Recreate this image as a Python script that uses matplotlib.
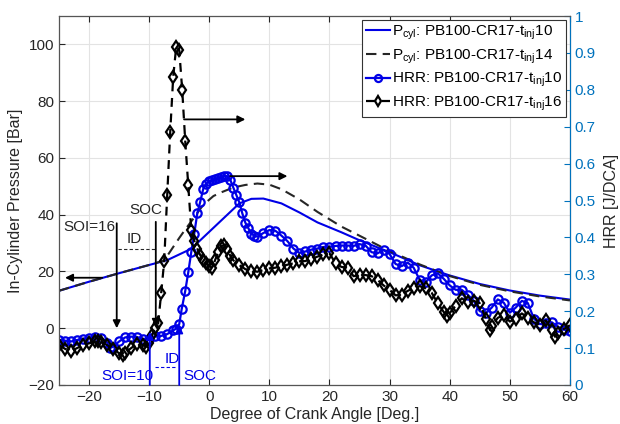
import numpy as np
import matplotlib
matplotlib.use("Agg")
import matplotlib.pyplot as plt

plt.rcParams['font.family'] = ['Liberation Sans', 'DejaVu Sans']
plt.rcParams['mathtext.default'] = 'regular'
plt.rcParams['font.size'] = 11

# In-cylinder pressure [bar]
p10_ca = [-25, -20, -15, -10, -7, -3, 5, 7, 9, 12, 15, 18, 22, 25, 30, 35, 40, 45, 50, 55, 60]
p10 = [13.2, 16.4, 19.4, 22.3, 24.0, 28.0, 44.0, 45.6, 45.7, 44.0, 40.8, 37.3, 33.8, 31.0,
       26.8, 22.2, 18.6, 15.6, 13.3, 11.5, 10.1]

p14_ca = [-25, -20, -15, -10, -7.5, -5, -4, -2.7, -1, 0.7, 2, 4, 6, 8, 10, 12, 15, 18, 22, 25,
          30, 35, 40, 45, 50, 55, 60]
p14 = [13.2, 16.4, 19.4, 22.3, 23.9, 31.8, 34.8, 38.5, 43.5, 46.6, 47.9, 49.6, 50.5, 51.0, 50.6,
       49.0, 45.4, 41.0, 35.8, 32.6, 27.2, 22.5, 18.4, 15.3, 13.0, 11.2, 9.8]

# Heat release rate [J/DCA]
hrr10_ca = [-25, -24, -23, -22, -21, -20, -19, -18, -17, -16.5, -16, -15, -14, -13, -12, -11,
            -10, -9, -8, -7, -6, -5.5, -5, -4.6, -4, -3.5, -3, -2.5, -2, -1.5, -1, -0.5, 0,
            0.5, 1, 1.5, 2, 2.5, 3, 3.5, 4, 4.5, 5, 5.5, 6, 6.5, 7, 7.5, 8, 9, 10, 11, 12, 13,
            14, 15, 16, 17, 18, 19, 20, 21, 22, 23, 24, 25, 26, 27, 28, 29, 30, 31, 32, 33,
            34, 35, 36, 37, 38, 39, 40, 41, 42, 43, 44, 45, 46, 47, 48, 49, 50, 51, 52, 53,
            54, 55, 56, 57, 58, 59, 60]
hrr10 = [0.122, 0.120, 0.118, 0.122, 0.125, 0.128, 0.131, 0.128, 0.115, 0.100, 0.104, 0.118,
         0.129, 0.131, 0.130, 0.124, 0.126, 0.132, 0.133, 0.138, 0.148, 0.153, 0.165, 0.205,
         0.255, 0.305, 0.360, 0.410, 0.465, 0.497, 0.532, 0.546, 0.552, 0.556, 0.558, 0.560,
         0.563, 0.567, 0.566, 0.556, 0.535, 0.515, 0.495, 0.465, 0.440, 0.425, 0.410, 0.405,
         0.402, 0.412, 0.420, 0.418, 0.405, 0.390, 0.370, 0.358, 0.362, 0.367, 0.370, 0.374,
         0.375, 0.377, 0.378, 0.378, 0.377, 0.382, 0.378, 0.360, 0.357, 0.366, 0.355, 0.328,
         0.322, 0.332, 0.318, 0.285, 0.278, 0.297, 0.303, 0.288, 0.270, 0.258, 0.258, 0.245,
         0.228, 0.200, 0.194, 0.210, 0.232, 0.223, 0.196, 0.210, 0.228, 0.222, 0.180, 0.165,
         0.168, 0.170, 0.158, 0.150, 0.147]

hrr16_ca = [-25, -24, -23, -22, -21, -20, -19, -18.5, -18, -17, -16, -15, -14.3, -14, -13, -12,
            -11, -10.5, -10, -9.5, -9, -8.5, -8, -7.5, -7, -6.5, -6, -5.5, -5, -4.5, -4, -3.5,
            -3, -2.5, -2, -1.5, -1, -0.5, 0, 0.5, 1, 1.5, 2, 2.5, 3, 3.5, 4, 5, 6, 7, 8, 9, 10,
            11, 12, 13, 14, 15, 16, 17, 18, 19, 20, 21, 22, 23, 24, 25, 26, 27, 28, 29, 30, 31,
            32, 33, 34, 35, 36, 37, 38, 39, 39.5, 40, 41, 42, 43, 44, 45, 46, 46.7, 47, 48, 49,
            50, 51, 52, 53, 54, 55, 56, 57, 57.5, 58, 59, 60]
hrr16 = [0.108, 0.098, 0.092, 0.100, 0.108, 0.113, 0.118, 0.120, 0.117, 0.108, 0.098, 0.086,
         0.082, 0.088, 0.100, 0.112, 0.108, 0.104, 0.115, 0.135, 0.155, 0.167, 0.250, 0.336,
         0.515, 0.686, 0.836, 0.917, 0.908, 0.799, 0.661, 0.542, 0.420, 0.391, 0.370, 0.352,
         0.340, 0.330, 0.322, 0.318, 0.340, 0.360, 0.376, 0.380, 0.368, 0.350, 0.338, 0.325,
         0.314, 0.310, 0.307, 0.312, 0.316, 0.318, 0.322, 0.326, 0.330, 0.335, 0.336, 0.342,
         0.348, 0.354, 0.357, 0.330, 0.320, 0.318, 0.295, 0.298, 0.298, 0.295, 0.285, 0.270,
         0.258, 0.243, 0.245, 0.255, 0.263, 0.268, 0.262, 0.250, 0.222, 0.198, 0.188, 0.195,
         0.215, 0.235, 0.225, 0.228, 0.222, 0.180, 0.149, 0.160, 0.182, 0.190, 0.172, 0.180,
         0.194, 0.182, 0.170, 0.163, 0.175, 0.150, 0.131, 0.140, 0.152, 0.162]

blue = '#0000e6'
rblue = '#0072BD'
dark = '#262626'

fig = plt.figure(figsize=(6.2, 4.24), dpi=100)
ax = fig.add_axes([0.0952, 0.092, 0.824, 0.870])
ax2 = ax.twinx()

l1, = ax.plot(p10_ca, p10, color=blue, lw=1.5)
l2, = ax.plot(p14_ca, p14, color=dark, lw=1.5, ls=(0, (5, 3)))
l3, = ax2.plot(hrr10_ca, hrr10, color=blue, lw=1.6, marker='o', ms=6, mfc='none', mew=1.6)
l4, = ax2.plot(hrr16_ca, hrr16, color='k', lw=1.6, ls=(0, (4, 3)), marker='d', ms=6.5,
               mfc='none', mew=1.6)

ax.set_xlim(-25, 60)
ax.set_ylim(-20, 110)
ax.set_xticks(np.arange(-20, 61, 10))
ax.set_yticks(np.arange(-20, 101, 20))
ax.grid(True, color='#e3e3e3', lw=0.8)
ax.set_axisbelow(True)
ax.tick_params(direction='in', top=True, colors=dark, labelsize=11, length=4)
ax.set_xlabel('Degree of Crank Angle [Deg.]', fontsize=11.5, color=dark, labelpad=2)
ax.set_ylabel('In-Cylinder Pressure [Bar]', fontsize=11.5, color=dark, labelpad=4)

ax2.set_ylim(0, 1)
ax2.set_yticks(np.arange(0, 1.01, 0.1))
ax2.set_yticklabels(['0', '0.1', '0.2', '0.3', '0.4', '0.5', '0.6', '0.7', '0.8', '0.9', '1'])
ax2.tick_params(direction='in', colors=rblue, labelsize=11, length=4)
ax2.set_ylabel('HRR [J/DCA]', fontsize=11.5, color=dark, labelpad=6)
for s in ['left', 'bottom', 'top']:
    ax2.spines[s].set_color('#555555')
ax2.spines['right'].set_color(rblue)

# annotations (pressure-axis coordinates)
tr = ax.transData
arrow_k = dict(arrowstyle='-|>', color='k', lw=1.3, mutation_scale=11, shrinkA=0, shrinkB=0)
arrow_b = dict(arrowstyle='-|>', color=blue, lw=1.3, mutation_scale=11, shrinkA=0, shrinkB=0)

ax2.annotate('', xy=(-24.0, 17.8), xytext=(-17.8, 17.8), xycoords=tr, textcoords=tr, arrowprops=arrow_k)
ax2.annotate('', xy=(6.0, 73.6), xytext=(-4.2, 73.6), xycoords=tr, textcoords=tr, arrowprops=arrow_k)
ax2.annotate('', xy=(13.0, 53.6), xytext=(3.5, 53.6), xycoords=tr, textcoords=tr, arrowprops=arrow_k)

ax2.annotate('', xy=(-15.4, 0.0), xytext=(-15.4, 37.0), xycoords=tr, textcoords=tr, arrowprops=arrow_k)
ax2.text(-24.3, 35.6, 'SOI=16', transform=tr, va='center', ha='left', fontsize=11, color=dark)
ax2.text(-13.8, 31.6, 'ID', transform=tr, va='center', ha='left', fontsize=11, color=dark)
ax2.plot([-15.2, -8.8], [27.8, 27.8], transform=tr, color=dark, lw=0.8, ls=(0, (3, 2)))
ax2.annotate('', xy=(-8.9, 0.5), xytext=(-8.9, 37.5), xycoords=tr, textcoords=tr, arrowprops=arrow_k)
ax2.text(-13.3, 41.6, 'SOC', transform=tr, va='center', ha='left', fontsize=11, color=dark)

ax2.annotate('', xy=(-9.9, -1.3), xytext=(-9.9, -20), xycoords=tr, textcoords=tr, arrowprops=arrow_b)
ax2.text(-17.9, -17.0, 'SOI=10', transform=tr, va='center', ha='left', fontsize=11, color=blue)
ax2.text(-7.4, -11.0, 'ID', transform=tr, va='center', ha='left', fontsize=11, color=blue)
ax2.plot([-9.0, -5.3], [-13.8, -13.8], transform=tr, color=blue, lw=0.8, ls=(0, (3, 2)))
ax2.annotate('', xy=(-5.0, 1.0), xytext=(-5.0, -20), xycoords=tr, textcoords=tr, arrowprops=arrow_b)
ax2.text(-4.3, -17.0, 'SOC', transform=tr, va='center', ha='left', fontsize=11, color=blue)

labels = ['P$_{cyl}$: PB100-CR17-t$_{inj}$10',
          'P$_{cyl}$: PB100-CR17-t$_{inj}$14',
          'HRR: PB100-CR17-t$_{inj}$10',
          'HRR: PB100-CR17-t$_{inj}$16']
leg = ax2.legend([l1, l2, l3, l4], labels, loc='upper right', fontsize=11, fancybox=False,
                 edgecolor='#333333', framealpha=1, handlelength=1.6, handletextpad=0.1,
                 borderpad=0.25, labelspacing=0.35, borderaxespad=0.25, markerscale=0.85)
leg.get_frame().set_linewidth(0.8)

fig.savefig('out.png', dpi=100)
